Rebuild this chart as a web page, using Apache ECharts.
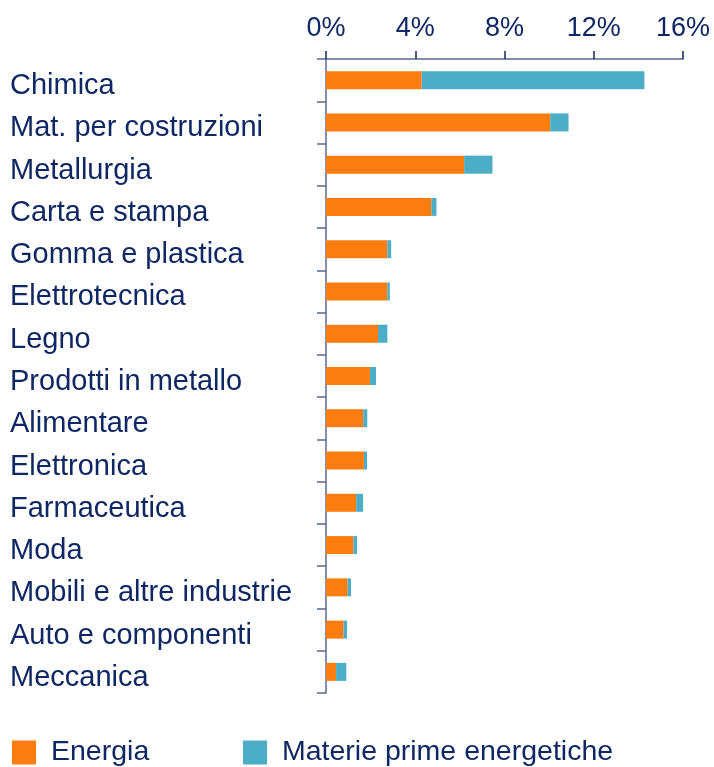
<!DOCTYPE html>
<html>
<head>
<meta charset="utf-8">
<script src="https://cdn.jsdelivr.net/npm/echarts@6/dist/echarts.min.js"></script>
<style>
html,body{margin:0;padding:0;background:#fff;}
#chart{width:714px;height:767px;}
</style>
</head>
<body>
<div id="chart"></div>
<script>
const categories = ["Chimica","Mat. per costruzioni","Metallurgia","Carta e stampa","Gomma e plastica","Elettrotecnica","Legno","Prodotti in metallo","Alimentare","Elettronica","Farmaceutica","Moda","Mobili e altre industrie","Auto e componenti","Meccanica"];
const energia = [4.29, 10.05, 6.19, 4.73, 2.75, 2.75, 2.33, 1.97, 1.67, 1.70, 1.35, 1.23, 0.97, 0.79, 0.45];
const materie = [9.98, 0.82, 1.27, 0.22, 0.17, 0.11, 0.42, 0.27, 0.18, 0.14, 0.31, 0.16, 0.15, 0.15, 0.46];
const seriesNames = ["Energia", "Materie prime energetiche"];
const xTicks = {min: 0, max: 16, interval: 4};

const navy = '#0f2762';
const axisCol = '#5a6894';
const font = 'Liberation Sans, Arial, sans-serif';
const chart = echarts.init(document.getElementById('chart'), null, {renderer: 'canvas'});
chart.setOption({
  animation: false,
  backgroundColor: '#ffffff',
  grid: {left: 326, right: 31, top: 59, bottom: 74, containLabel: false},
  legend: [
    {data: [seriesNames[0]], left: 7, top: 733, itemWidth: 24, itemHeight: 24, icon: 'rect',
     textStyle: {color: navy, fontSize: 28.5, fontFamily: font, padding: [0, 0, 0, 10]}},
    {data: [seriesNames[1]], left: 238, top: 733, itemWidth: 24, itemHeight: 24, icon: 'rect',
     textStyle: {color: navy, fontSize: 28.5, fontFamily: font, padding: [0, 0, 0, 10]}}
  ],
  xAxis: {
    type: 'value', position: 'top', min: xTicks.min, max: xTicks.max, interval: xTicks.interval,
    axisLine: {show: true, lineStyle: {color: axisCol, width: 1.5}},
    axisTick: {show: true, length: 8, lineStyle: {color: navy, width: 1.5}},
    splitLine: {show: false},
    axisLabel: {formatter: '{value}%', color: navy, fontSize: 27, fontFamily: font, margin: 17}
  },
  yAxis: {
    type: 'category', data: categories, inverse: true,
    axisLine: {show: true, lineStyle: {color: axisCol, width: 1.5}},
    axisTick: {show: true, length: 9, lineStyle: {color: axisCol, width: 1.5}},
    axisLabel: {align: 'left', margin: 316, verticalAlign: 'middle',
      formatter: v => '{a|' + v + '}',
      rich: {a: {color: navy, fontSize: 29, fontFamily: font, padding: [12, 0, 0, 0]}}}
  },
  series: [
    {name: seriesNames[0], type: 'bar', stack: 'tot', data: energia, barWidth: 18,
     itemStyle: {color: '#fb7d10'}},
    {name: seriesNames[1], type: 'bar', stack: 'tot', data: materie, barWidth: 18,
     itemStyle: {color: '#4badc6'}}
  ]
});
</script>
</body>
</html>
